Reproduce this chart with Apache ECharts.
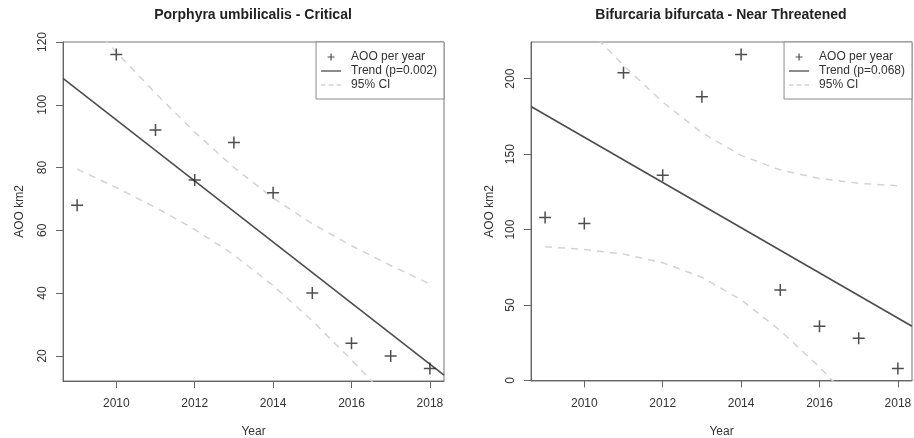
<!DOCTYPE html>
<html>
<head>
<meta charset="utf-8">
<script src="https://cdn.jsdelivr.net/npm/echarts@6/dist/echarts.min.js"></script>
<style>
html,body{margin:0;padding:0;background:#fff;}
#chart{width:914px;height:438px;}
</style>
</head>
<body>
<div id="chart"></div>
<script>
// ---- data ----
const years = [2009, 2010, 2011, 2012, 2013, 2014, 2015, 2016, 2017, 2018];
const aooPorphyra = [68, 116, 92, 76, 88, 72, 40, 24, 20, 16];
const aooBifurcaria = [108, 104, 204, 136, 188, 216, 60, 36, 28, 8];
const trendYears = [2008.64, 2018.36];
const trendPorphyra = [108.4, 13.9];
const trendBifurcaria = [181.6, 36.0];
const ciUpperPorphyra = [130.4, 116.8, 103.7, 91.3, 80.0, 70.3, 62.1, 55.1, 48.8, 42.9];
const ciLowerPorphyra = [79.5, 73.6, 67.3, 60.3, 52.2, 42.4, 31.2, 18.7, 5.6, -8.0];
const ciUpperBifurcaria = [263.9, 235.6, 208.8, 184.5, 164.2, 149.2, 139.5, 133.9, 130.7, 129.0];
const ciLowerBifurcaria = [88.6, 86.9, 83.8, 78.1, 68.4, 53.5, 33.1, 8.9, -18.0, -46.3];
const xTicks = [2010, 2012, 2014, 2016, 2018];
const yTicksPorphyra = [20, 40, 60, 80, 100, 120];
const yTicksBifurcaria = [0, 50, 100, 150, 200];
const titles = ['Porphyra umbilicalis - Critical', 'Bifurcaria bifurcata - Near Threatened'];
const trendNames = ['Trend (p=0.002)', 'Trend (p=0.068)'];
const pointName = 'AOO per year';
const ciName = '95% CI';

// ---- helpers ----
const zip = (xs, ys) => xs.map((x, i) => [x, ys[i]]);
const FONT = '"Liberation Sans", Arial, sans-serif';
const plusSymbol = 'path://M5.25,0h1.5v5.25h5.25v1.5h-5.25v5.25h-1.5v-5.25h-5.25v-1.5h5.25z';
const plusIcon = 'path://M0,0h0.01v0.01h-0.01z M12,12h0.01v0.01h-0.01z M5.4,2.5h1.2v2.9h2.9v1.2h-2.9v2.9h-1.2v-2.9h-2.9v-1.2h2.9z';
const solidIcon = 'path://M0,0h20v1.3h-20z';
const dashIcon = 'path://M0,0h4.5v1.3h-4.5z M7.5,0h5v1.3h-5z M15.5,0h4.5v1.3h-4.5z';

function xAxisCfg(gridIndex) {
  return {
    type: 'value', gridIndex, min: 2008.64, max: 2018.36,
    name: 'Year', nameLocation: 'middle', nameGap: 45,
    nameTextStyle: {fontSize: 12, color: '#333', fontFamily: FONT},
    axisLine: {show: true, lineStyle: {color: '#666', width: 1}},
    axisTick: {show: true, inside: false, length: 7, customValues: xTicks, lineStyle: {color: '#666'}},
    axisLabel: {customValues: xTicks, margin: 17, fontSize: 12, color: '#333', fontFamily: FONT,
                formatter: v => String(v)},
    splitLine: {show: false}
  };
}
function yAxisCfg(gridIndex, min, max, ticks, nameGap) {
  return {
    type: 'value', gridIndex, min, max,
    name: 'AOO km2', nameLocation: 'middle', nameGap,
    nameTextStyle: {fontSize: 12, color: '#333', fontFamily: FONT},
    axisLine: {show: true, lineStyle: {color: '#666', width: 1}},
    axisTick: {show: true, inside: false, length: 7, customValues: ticks, lineStyle: {color: '#666'}},
    axisLabel: {customValues: ticks, rotate: 90, margin: 14, fontSize: 12, color: '#333', fontFamily: FONT,
                formatter: v => String(v)},
    splitLine: {show: false}
  };
}
function panelSeries(idx, pts, trend, up, lo) {
  const ciStyle = {color: '#d3d3d3', width: 1.5, type: [7, 6]};
  return [
    {name: ciName, type: 'line', xAxisIndex: idx, yAxisIndex: idx, data: zip(years, up),
     symbol: 'none', lineStyle: ciStyle, itemStyle: {color: '#d3d3d3'}, z: 2, silent: true},
    {name: ciName, type: 'line', xAxisIndex: idx, yAxisIndex: idx, data: zip(years, lo),
     symbol: 'none', lineStyle: ciStyle, itemStyle: {color: '#d3d3d3'}, z: 2, silent: true},
    {name: trendNames[idx], type: 'line', xAxisIndex: idx, yAxisIndex: idx, data: zip(trendYears, trend),
     symbol: 'none', lineStyle: {color: '#4d4d4d', width: 1.6}, itemStyle: {color: '#4d4d4d'}, z: 3, silent: true},
    {name: pointName, type: 'scatter', xAxisIndex: idx, yAxisIndex: idx, data: zip(years, pts),
     symbol: plusSymbol, symbolSize: 12, itemStyle: {color: '#222'}, z: 4, silent: true}
  ];
}
function legendCfg(idx, right) {
  return {
    orient: 'vertical', right, top: 42,
    padding: [9, 7, 8, 5], itemGap: 2, itemWidth: 20, itemHeight: 12,
    borderColor: '#8a8a8a', borderWidth: 1, backgroundColor: '#fff',
    selectedMode: false,
    textStyle: {fontSize: 12, color: '#333', fontFamily: FONT, padding: [0, 0, 0, 5]},
    data: [
      {name: pointName, icon: plusIcon, itemStyle: {color: '#222'}},
      {name: trendNames[idx], icon: solidIcon, itemStyle: {color: '#4d4d4d'}},
      {name: ciName, icon: dashIcon, itemStyle: {color: '#d3d3d3'}}
    ]
  };
}

const chart = echarts.init(document.getElementById('chart'), null, {renderer: 'canvas'});
chart.setOption({
  animation: false,
  backgroundColor: '#fff',
  title: [
    {text: titles[0], left: 248, top: 3, textAlign: 'center',
     textStyle: {fontSize: 14, fontWeight: 'bold', color: '#222', fontFamily: FONT}},
    {text: titles[1], left: 716, top: 3, textAlign: 'center',
     textStyle: {fontSize: 14, fontWeight: 'bold', color: '#222', fontFamily: FONT}}
  ],
  grid: [
    {left: 63, top: 42, width: 381, height: 339, show: true, borderColor: '#777', borderWidth: 1,
     backgroundColor: 'transparent', outerBoundsMode: 'none'},
    {left: 531, top: 42, width: 381, height: 339, show: true, borderColor: '#777', borderWidth: 1,
     backgroundColor: 'transparent', outerBoundsMode: 'none'}
  ],
  legend: [legendCfg(0, 470), legendCfg(1, 2)],
  xAxis: [xAxisCfg(0), xAxisCfg(1)],
  yAxis: [yAxisCfg(0, 12, 120, yTicksPorphyra, 37), yAxisCfg(1, -0.32, 224.32, yTicksBifurcaria, 35)],
  series: [].concat(
    panelSeries(0, aooPorphyra, trendPorphyra, ciUpperPorphyra, ciLowerPorphyra),
    panelSeries(1, aooBifurcaria, trendBifurcaria, ciUpperBifurcaria, ciLowerBifurcaria)
  )
});
</script>
</body>
</html>
